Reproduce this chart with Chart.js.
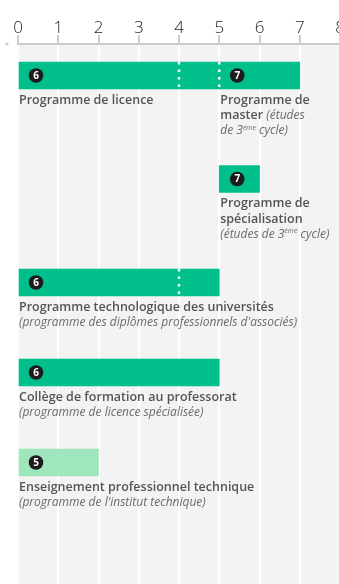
<!DOCTYPE html>
<html>
<head>
<meta charset="utf-8">
<script src="https://cdn.jsdelivr.net/npm/chart.js@4.4.0/dist/chart.umd.min.js"></script>
<style>
  html, body { margin: 0; padding: 0; background: #fff; overflow: hidden; width: 339px; height: 584px; }
  #wrap { width: 360px; height: 584px; }
</style>
</head>
<body>
<div id="wrap"><canvas id="myChart" width="360" height="584"></canvas></div>
<script>
// axis
const xTicks = [0, 1, 2, 3, 4, 5, 6, 7, 8];

// segments (one bar each)
const segRow = [0, 0, 1, 2, 3, 4];
const segStart = [0, 5, 5, 0, 0, 0];
const segEnd = [5, 7, 6, 5, 5, 2];
const segLevel = [6, 7, 7, 6, 6, 5];

// dotted separators inside bars
const dividerRow = [0, 0, 2];
const dividerAt = [4, 5, 4];

// labels: _italic_  ^superscript^
const segLabels = [
    ["Programme de licence"],
    ["Programme de", "master _(études_", "_de 3^ème^ cycle)_"],
    ["Programme de", "spécialisation", "_(études de 3^ème^ cycle)_"],
    ["Programme technologique des universités", "_(programme des diplômes professionnels d'associés)_"],
    ["Collège de formation au professorat", "_(programme de licence spécialisée)_"],
    ["Enseignement professionnel technique", "_(programme de l'institut technique)_"]
];

const GREEN = '#00bf8a';
const LIGHT = '#a0e6bd';
const ROW_BASE = 63, LINE_H = 13.5, FIRST_ROW = 31.5;

// row positions follow how many text lines each row needs
const rowLines = [];
segRow.forEach((r, i) => { rowLines[r] = Math.max(rowLines[r] || 0, segLabels[i].length); });
const rowPos = [];
rowLines.forEach((n, r) => {
    rowPos[r] = r === 0 ? FIRST_ROW : rowPos[r - 1] + ROW_BASE + LINE_H * rowLines[r - 1];
});

function parseRuns(line) {
    const out = [];
    let mode = 'b', buf = '';
    for (const ch of line) {
        if (ch === '_' || ch === '^') {
            if (buf) out.push({ t: buf, m: mode });
            buf = '';
            if (ch === '_') mode = mode === 'b' ? 'i' : 'b';
            else mode = mode === 's' ? 'i' : 's';
        } else buf += ch;
    }
    if (buf) out.push({ t: buf, m: mode });
    return out;
}

const runFont = {
    b: { font: '600 12.5px "Open Sans"', color: '#555555', dy: 0 },
    i: { font: 'italic 12px "Open Sans"', color: '#6b6b6b', dy: 0 },
    s: { font: 'italic 7px "Open Sans"', color: '#6b6b6b', dy: -3.5 }
};

const deco = {
    id: 'deco',
    beforeDraw(chart) {
        const { ctx, chartArea: a, scales: { x } } = chart;
        ctx.save();
        ctx.fillStyle = '#f3f3f3';
        ctx.fillRect(x.getPixelForValue(0) - 1, a.top + 1, chart.width, a.bottom - a.top);
        ctx.restore();
    },
    afterDatasetsDraw(chart) {
        const { ctx, scales: { x, y } } = chart;
        const half = 13.5;
        ctx.save();
        // dotted separators
        ctx.strokeStyle = '#fff';
        ctx.lineWidth = 2.5;
        ctx.setLineDash([2.5, 5]);
        dividerAt.forEach((v, i) => {
            const px = x.getPixelForValue(v);
            const cy = y.getPixelForValue(rowPos[dividerRow[i]]);
            ctx.beginPath();
            ctx.moveTo(px, cy - half);
            ctx.lineTo(px, cy + half);
            ctx.stroke();
        });
        ctx.setLineDash([]);
        // badges and labels
        segStart.forEach((s, i) => {
            const px = x.getPixelForValue(s);
            const cy = y.getPixelForValue(rowPos[segRow[i]]);
            ctx.fillStyle = '#1c1c1c';
            ctx.beginPath();
            ctx.arc(px + 18, cy, 7.3, 0, Math.PI * 2);
            ctx.fill();
            ctx.fillStyle = '#fff';
            ctx.font = 'bold 10px "Open Sans"';
            ctx.textAlign = 'center';
            ctx.textBaseline = 'middle';
            ctx.fillText(String(segLevel[i]), px + 18, cy + 0.5);

            ctx.textAlign = 'left';
            segLabels[i].forEach((line, li) => {
                let tx = px + 1;
                const ty = cy + half + 11 + li * 15.5;
                parseRuns(line).forEach(run => {
                    const f = runFont[run.m];
                    ctx.font = f.font;
                    ctx.fillStyle = f.color;
                    ctx.fillText(run.t, tx, ty + f.dy);
                    tx += ctx.measureText(run.t).width;
                });
            });
        });
        ctx.restore();
    },
    afterDraw(chart) {
        const { ctx, chartArea: a } = chart;
        ctx.save();
        ctx.fillStyle = '#cfcfcf';
        ctx.beginPath();
        ctx.arc(7, a.top, 1.6, 0, Math.PI * 2);
        ctx.fill();
        ctx.restore();
    }
};

const ctx = document.getElementById('myChart').getContext('2d');
new Chart(ctx, {
    type: 'bar',
    data: {
        datasets: [{
            data: segStart.map((s, i) => ({ x: [s, segEnd[i]], y: rowPos[segRow[i]] })),
            backgroundColor: segLevel.map(l => (l === 5 ? LIGHT : GREEN)),
            borderWidth: 0,
            borderSkipped: false,
            barThickness: 27
        }]
    },
    options: {
        indexAxis: 'y',
        responsive: false,
        animation: false,
        layout: { padding: { left: 18, right: 20, top: 0, bottom: 0 } },
        plugins: {
            legend: { display: false },
            tooltip: { enabled: false }
        },
        scales: {
            x: {
                type: 'linear',
                position: 'top',
                min: xTicks[0],
                max: xTicks[xTicks.length - 1],
                afterBuildTicks: s => { s.ticks = xTicks.map(v => ({ value: v })); },
                afterFit: s => { s.height = 44; },
                grid: {
                    color: '#fff',
                    lineWidth: 2,
                    tickColor: '#cccccc',
                    tickWidth: 2,
                    tickLength: 9
                },
                border: { color: '#cccccc', width: 2 },
                ticks: {
                    padding: -3,
                    color: '#222',
                    font: { family: 'Open Sans', size: 17, weight: 300, lineHeight: 1.1 }
                }
            },
            y: {
                type: 'linear',
                display: false,
                offset: false,
                reverse: true,
                min: 0,
                max: 540
            }
        }
    },
    plugins: [deco]
});
</script>
</body>
</html>
